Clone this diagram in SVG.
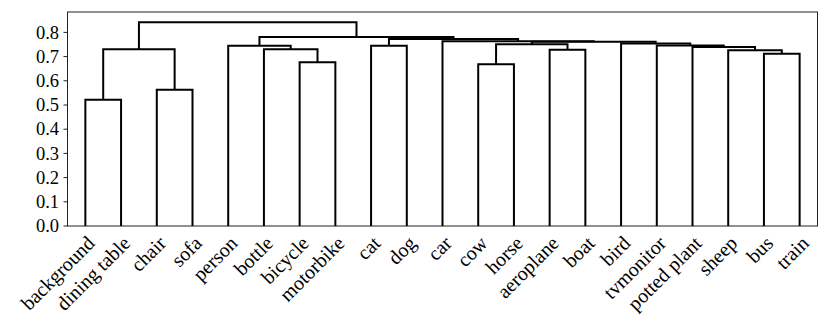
<svg xmlns="http://www.w3.org/2000/svg" width="830" height="332" viewBox="0 0 830 332">
<style>
text{font-family:"Liberation Serif","Times New Roman",serif;fill:#000}
.yl{text-anchor:end;font-size:18.5px}
.xl{text-anchor:end;font-size:20px}
.link{fill:none;stroke:#000;stroke-width:2;stroke-linejoin:miter}
.spine{fill:none;stroke:#222;stroke-width:1}
.tick{stroke:#222;stroke-width:1}
</style>
<rect width="830" height="332" fill="#fff"/>
<g id="axes">
<rect class="spine" x="67.5" y="12" width="750" height="214"/>
<g id="yticks">
<line class="tick" x1="63.5" y1="226" x2="67.5" y2="226"/>
<line class="tick" x1="63.5" y1="201.8" x2="67.5" y2="201.8"/>
<line class="tick" x1="63.5" y1="177.6" x2="67.5" y2="177.6"/>
<line class="tick" x1="63.5" y1="153.4" x2="67.5" y2="153.4"/>
<line class="tick" x1="63.5" y1="129.2" x2="67.5" y2="129.2"/>
<line class="tick" x1="63.5" y1="105" x2="67.5" y2="105"/>
<line class="tick" x1="63.5" y1="80.8" x2="67.5" y2="80.8"/>
<line class="tick" x1="63.5" y1="56.6" x2="67.5" y2="56.6"/>
<line class="tick" x1="63.5" y1="32.4" x2="67.5" y2="32.4"/>
<text class="yl" x="59" y="232.2">0.0</text>
<text class="yl" x="59" y="208">0.1</text>
<text class="yl" x="59" y="183.8">0.2</text>
<text class="yl" x="59" y="159.6">0.3</text>
<text class="yl" x="59" y="135.4">0.4</text>
<text class="yl" x="59" y="111.2">0.5</text>
<text class="yl" x="59" y="87">0.6</text>
<text class="yl" x="59" y="62.8">0.7</text>
<text class="yl" x="59" y="38.6">0.8</text>
</g>
</g>
<g id="links">
<path class="link" d="M85.36 226V99.7H121.07V226"/>
<path class="link" d="M156.79 226V89.7H192.5V226"/>
<path class="link" d="M103.21 99.7V49.3H174.64V89.7"/>
<path class="link" d="M299.64 226V62.3H335.36V226"/>
<path class="link" d="M263.93 226V49.3H317.5V62.3"/>
<path class="link" d="M228.21 226V45.7H290.71V49.3"/>
<path class="link" d="M371.07 226V45.7H406.79V226"/>
<path class="link" d="M478.21 226V64.3H513.93V226"/>
<path class="link" d="M549.64 226V49.7H585.36V226"/>
<path class="link" d="M496.07 64.3V44.2H567.5V49.7"/>
<path class="link" d="M763.93 226V53.8H799.64V226"/>
<path class="link" d="M728.21 226V50.3H781.79V53.8"/>
<path class="link" d="M692.5 226V47H755V50.3"/>
<path class="link" d="M656.79 226V45.4H723.75V47"/>
<path class="link" d="M621.07 226V43.6H690.27V45.4"/>
<path class="link" d="M531.79 44.2V41.8H655.67V43.6"/>
<path class="link" d="M442.5 226V41.2H593.73V41.8"/>
<path class="link" d="M388.93 45.7V39H518.11V41.2"/>
<path class="link" d="M259.46 45.7V37H453.52V39"/>
<path class="link" d="M138.93 49.3V22.3H356.49V37"/>
</g>
<g id="leaf-background"><text class="xl" transform="translate(95.9 244.5) rotate(-45)">background</text></g>
<g id="leaf-dining-table"><text class="xl" transform="translate(131.6 244.5) rotate(-45)">dining table</text></g>
<g id="leaf-chair"><text class="xl" transform="translate(167.3 244.5) rotate(-45)">chair</text></g>
<g id="leaf-sofa"><text class="xl" transform="translate(203 244.5) rotate(-45)">sofa</text></g>
<g id="leaf-person"><text class="xl" transform="translate(238.7 244.5) rotate(-45)">person</text></g>
<g id="leaf-bottle"><text class="xl" transform="translate(274.4 244.5) rotate(-45)">bottle</text></g>
<g id="leaf-bicycle"><text class="xl" transform="translate(310.1 244.5) rotate(-45)">bicycle</text></g>
<g id="leaf-motorbike"><text class="xl" transform="translate(345.9 244.5) rotate(-45)">motorbike</text></g>
<g id="leaf-cat"><text class="xl" transform="translate(381.6 244.5) rotate(-45)">cat</text></g>
<g id="leaf-dog"><text class="xl" transform="translate(417.3 244.5) rotate(-45)">dog</text></g>
<g id="leaf-car"><text class="xl" transform="translate(453 244.5) rotate(-45)">car</text></g>
<g id="leaf-cow"><text class="xl" transform="translate(488.7 244.5) rotate(-45)">cow</text></g>
<g id="leaf-horse"><text class="xl" transform="translate(524.4 244.5) rotate(-45)">horse</text></g>
<g id="leaf-aeroplane"><text class="xl" transform="translate(560.1 244.5) rotate(-45)">aeroplane</text></g>
<g id="leaf-boat"><text class="xl" transform="translate(595.9 244.5) rotate(-45)">boat</text></g>
<g id="leaf-bird"><text class="xl" transform="translate(631.6 244.5) rotate(-45)">bird</text></g>
<g id="leaf-tvmonitor"><text class="xl" transform="translate(667.3 244.5) rotate(-45)">tvmonitor</text></g>
<g id="leaf-potted-plant"><text class="xl" transform="translate(703 244.5) rotate(-45)">potted plant</text></g>
<g id="leaf-sheep"><text class="xl" transform="translate(738.7 244.5) rotate(-45)">sheep</text></g>
<g id="leaf-bus"><text class="xl" transform="translate(774.4 244.5) rotate(-45)">bus</text></g>
<g id="leaf-train"><text class="xl" transform="translate(810.1 244.5) rotate(-45)">train</text></g>
</svg>
